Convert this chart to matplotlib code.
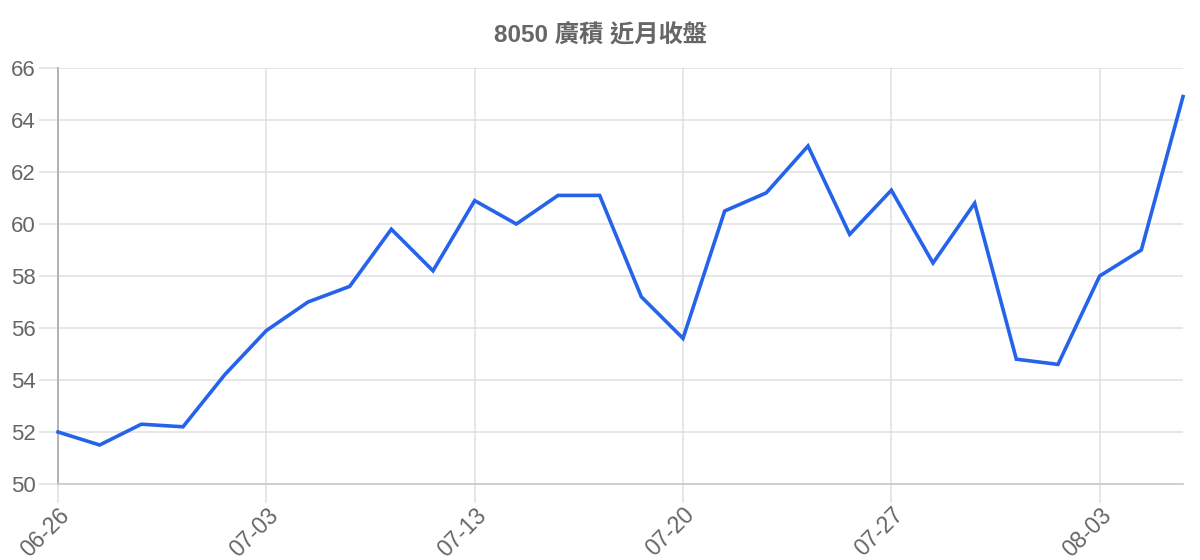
import matplotlib
matplotlib.use("Agg")
import matplotlib.pyplot as plt

dates = ["06-26", "06-27", "06-28", "06-29", "06-30",
         "07-03", "07-05", "07-06", "07-10", "07-11",
         "07-13", "07-14", "07-17", "07-18", "07-19",
         "07-20", "07-21", "07-24", "07-25", "07-26",
         "07-27", "07-28", "07-31", "08-01", "08-02",
         "08-03", "08-04", "08-07"]
close = [52.0, 51.5, 52.3, 52.2, 54.2,
         55.9, 57.0, 57.6, 59.8, 58.2,
         60.9, 60.0, 61.1, 61.1, 57.2,
         55.6, 60.5, 61.2, 63.0, 59.6,
         61.3, 58.5, 60.8, 54.8, 54.6,
         58.0, 59.0, 64.9]
title = "8050 廣積 近月收盤"
y_ticks = [50, 52, 54, 56, 58, 60, 62, 64, 66]

plt.rcParams['font.family'] = ['Liberation Sans', 'Noto Sans CJK TC', 'DejaVu Sans']

W, H = 1200, 560
fig = plt.figure(figsize=(W / 100, H / 100), dpi=100)
ax = fig.add_axes([58 / W, (H - 484) / H, 1125 / W, 416 / H])

x = list(range(len(dates)))
ax.plot(x, close, color="#2563eb", linewidth=2.6, solid_joinstyle="miter", zorder=3, clip_on=False)

ax.set_xlim(0, len(dates) - 1)
ax.set_ylim(y_ticks[0], y_ticks[-1])
ax.set_yticks(y_ticks)
ax.set_yticklabels([str(v) for v in y_ticks])
tick_idx = list(range(0, len(dates), 5))
ax.set_xticks(tick_idx)
ax.set_xticklabels([dates[i] for i in tick_idx], rotation=45, ha="right", va="top",
                   rotation_mode="anchor")

grid_c = "#e0e0e0"
ax.grid(True, color=grid_c, linewidth=1.1)
ax.set_axisbelow(True)
for s in ["top", "right"]:
    ax.spines[s].set_visible(False)
ax.spines["left"].set_color("#a8a8a8")
ax.spines["left"].set_linewidth(1.2)
ax.spines["bottom"].set_color("#c8c8c8")
ax.spines["bottom"].set_linewidth(1.2)
ax.tick_params(axis="both", colors=grid_c, labelcolor="#666666", labelsize=16,
               length=14, width=1.1, pad=2)
ax.tick_params(axis="x", labelsize=16.5, pad=0)

fig.text(0.5, 1 - 36 / H, title, ha="center", va="center",
         fontsize=17.5, fontweight="bold", color="#666666")

fig.savefig("out.png", dpi=100, facecolor="white")
